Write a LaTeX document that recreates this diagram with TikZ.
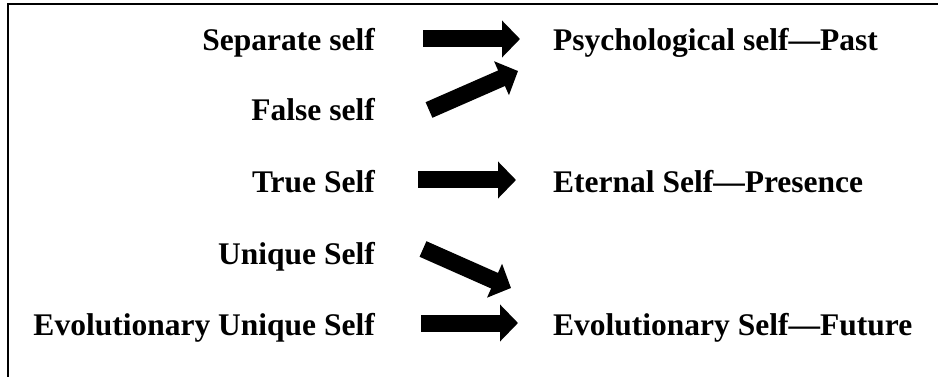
\documentclass[tikz,border=0pt]{standalone}
\usepackage{fontspec}
\setmainfont{Liberation Serif}
\usetikzlibrary{arrows.meta}

\begin{document}
\begin{tikzpicture}[x=1pt,y=-1pt,
  lbl/.style={font=\fontsize{31.5}{38}\selectfont\bfseries, inner sep=0pt},
  fat/.style={line width=17pt, -{Triangle[length=18pt,width=36pt]}}]
  \useasboundingbox (0,0) rectangle (938,377);
  \draw[line width=2pt] (7.5,377) -- (7.5,4.5) -- (938,4.5);
  \node[lbl,anchor=base east] (1) at (375,51) {Separate self};
  \node[lbl,anchor=base east] (2) at (375,121) {False self};
  \node[lbl,anchor=base east] (3) at (375,193) {True Self};
  \node[lbl,anchor=base east] (4) at (375,264) {Unique Self};
  \node[lbl,anchor=base east] (5) at (375,335) {Evolutionary Unique Self};
  \node[lbl,anchor=base west] (6) at (553,51) {Psychological self---Past};
  \node[lbl,anchor=base west] (7) at (553,193) {Eternal Self---Presence};
  \node[lbl,anchor=base west] (8) at (553,335) {Evolutionary Self---Future};
  \coordinate (a1) at (423,39);
  \coordinate (b1) at (520,39);
  \coordinate (a2) at (429,110);
  \coordinate (b2) at (518,71);
  \coordinate (a3) at (418,180);
  \coordinate (b3) at (516,180);
  \coordinate (a4) at (423,249);
  \coordinate (b4) at (511,288);
  \coordinate (a5) at (421,323);
  \coordinate (b5) at (518,323);
  \draw[fat] (a1) -- (b1);
  \draw[fat] (a2) -- (b2);
  \draw[fat] (a3) -- (b3);
  \draw[fat] (a4) -- (b4);
  \draw[fat] (a5) -- (b5);
\end{tikzpicture}
\end{document}
